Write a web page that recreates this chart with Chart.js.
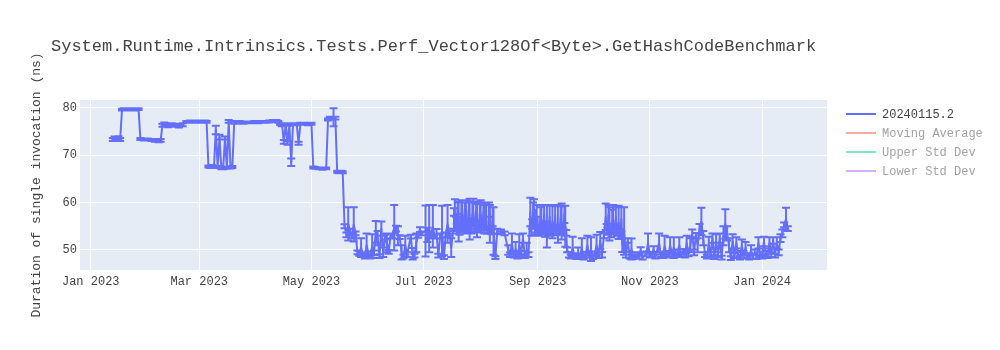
<!DOCTYPE html>
<html>
<head>
<meta charset="utf-8">
<script src="https://cdn.jsdelivr.net/npm/chart.js@4/dist/chart.umd.min.js"></script>
<style>
  html, body { margin: 0; padding: 0; background: #ffffff; }
  #wrap { width: 1000px; height: 350px; }
</style>
</head>
<body>
<div id="wrap"><canvas id="c" width="1000" height="350"></canvas></div>
<script>
const chartTitle = 'System.Runtime.Intrinsics.Tests.Perf_Vector128Of<Byte>.GetHashCodeBenchmark';
const yAxisTitle = 'Duration of single invocation (ns)';
const seriesNames = ['20240115.2', 'Moving Average', 'Upper Std Dev', 'Lower Std Dev'];
const seriesColors = ['#636efa', '#EF553B', '#00cc96', '#ab63fa'];
const seriesHidden = [false, true, true, true];

const xTickDates = ['2023-01-01', '2023-03-01', '2023-05-01', '2023-07-01', '2023-09-01', '2023-11-01', '2024-01-01'];
const xTickLabels = ['Jan 2023', 'Mar 2023', 'May 2023', 'Jul 2023', 'Sep 2023', 'Nov 2023', 'Jan 2024'];
const yTickValues = [50, 60, 70, 80];
const xRange = ['2022-12-26T04:00', '2024-02-05T07:00'];
const yRange = [45.78, 81.62];

const dates = [
  '2023-01-13','2023-01-14','2023-01-15','2023-01-16','2023-01-17','2023-01-18','2023-01-19','2023-01-21','2023-01-23','2023-01-25','2023-01-27','2023-01-28','2023-01-30',
  '2023-02-01','2023-02-03','2023-02-05','2023-02-07','2023-02-08','2023-02-09','2023-02-10','2023-02-12','2023-02-14','2023-02-16','2023-02-18','2023-02-20','2023-02-22','2023-02-24','2023-02-26','2023-02-28',
  '2023-03-02','2023-03-04','2023-03-05','2023-03-06','2023-03-07','2023-03-08','2023-03-09','2023-03-10','2023-03-11','2023-03-12','2023-03-13','2023-03-14','2023-03-15','2023-03-16','2023-03-17','2023-03-18','2023-03-19','2023-03-20','2023-03-21','2023-03-23','2023-03-25','2023-03-27','2023-03-29','2023-03-31',
  '2023-04-02','2023-04-04','2023-04-06','2023-04-08','2023-04-10','2023-04-12','2023-04-13','2023-04-14','2023-04-15','2023-04-16','2023-04-17','2023-04-18','2023-04-19','2023-04-20','2023-04-21','2023-04-23','2023-04-24','2023-04-25','2023-04-27','2023-04-29',
  '2023-05-01','2023-05-02','2023-05-03','2023-05-05','2023-05-07','2023-05-09','2023-05-10','2023-05-11','2023-05-12','2023-05-13','2023-05-14','2023-05-15','2023-05-16','2023-05-17','2023-05-18','2023-05-19','2023-05-20','2023-05-21','2023-05-22','2023-05-23','2023-05-24','2023-05-25','2023-05-26','2023-05-27','2023-05-28','2023-05-29','2023-05-30','2023-05-31',
  '2023-06-01','2023-06-02','2023-06-03','2023-06-04','2023-06-05','2023-06-06','2023-06-07','2023-06-08','2023-06-09','2023-06-10','2023-06-11','2023-06-12','2023-06-13','2023-06-14','2023-06-15','2023-06-16','2023-06-17','2023-06-18','2023-06-19','2023-06-20','2023-06-21','2023-06-22','2023-06-24','2023-06-25','2023-06-26','2023-06-27','2023-06-28','2023-06-29','2023-06-30',
  '2023-07-02','2023-07-03','2023-07-04','2023-07-05','2023-07-06','2023-07-07','2023-07-08','2023-07-09','2023-07-10','2023-07-11','2023-07-12','2023-07-13','2023-07-14','2023-07-15','2023-07-16','2023-07-17','2023-07-17T12:00','2023-07-18','2023-07-18T12:00','2023-07-19','2023-07-19T12:00','2023-07-20','2023-07-20T12:00','2023-07-21','2023-07-21T12:00','2023-07-22','2023-07-22T12:00','2023-07-23','2023-07-23T12:00','2023-07-24','2023-07-24T12:00','2023-07-25','2023-07-25T12:00','2023-07-26','2023-07-26T12:00','2023-07-27','2023-07-27T12:00','2023-07-28','2023-07-28T12:00','2023-07-29','2023-07-29T12:00','2023-07-30','2023-07-30T12:00','2023-07-31','2023-07-31T12:00',
  '2023-08-01','2023-08-01T12:00','2023-08-02','2023-08-02T12:00','2023-08-03','2023-08-03T12:00','2023-08-04','2023-08-04T12:00','2023-08-05','2023-08-05T12:00','2023-08-06','2023-08-06T12:00','2023-08-07','2023-08-07T12:00','2023-08-08','2023-08-09','2023-08-10','2023-08-12','2023-08-14','2023-08-16','2023-08-17','2023-08-18','2023-08-19','2023-08-20','2023-08-21','2023-08-22','2023-08-23','2023-08-24','2023-08-25','2023-08-26','2023-08-27','2023-08-28','2023-08-28T12:00','2023-08-29','2023-08-29T12:00','2023-08-30','2023-08-30T12:00','2023-08-31','2023-08-31T12:00',
  '2023-09-01','2023-09-01T12:00','2023-09-02','2023-09-02T12:00','2023-09-03','2023-09-03T12:00','2023-09-04','2023-09-04T12:00','2023-09-05','2023-09-05T12:00','2023-09-06','2023-09-06T12:00','2023-09-07','2023-09-07T12:00','2023-09-08','2023-09-08T12:00','2023-09-09','2023-09-09T12:00','2023-09-10','2023-09-10T12:00','2023-09-11','2023-09-11T12:00','2023-09-12','2023-09-12T12:00','2023-09-13','2023-09-13T12:00','2023-09-14','2023-09-14T12:00','2023-09-15','2023-09-15T12:00','2023-09-16','2023-09-16T12:00','2023-09-17','2023-09-18','2023-09-19','2023-09-20','2023-09-21','2023-09-22','2023-09-23','2023-09-24','2023-09-25','2023-09-26','2023-09-27','2023-09-28','2023-09-29','2023-09-30',
  '2023-10-01','2023-10-02','2023-10-03','2023-10-04','2023-10-05','2023-10-06','2023-10-07','2023-10-08','2023-10-08T12:00','2023-10-09','2023-10-09T12:00','2023-10-10','2023-10-10T12:00','2023-10-11','2023-10-11T12:00','2023-10-12','2023-10-12T12:00','2023-10-13','2023-10-13T12:00','2023-10-14','2023-10-15','2023-10-15T12:00','2023-10-16','2023-10-16T12:00','2023-10-17','2023-10-18','2023-10-19','2023-10-20','2023-10-21','2023-10-22','2023-10-23','2023-10-24','2023-10-26','2023-10-27','2023-10-28','2023-10-30','2023-10-31',
  '2023-11-01','2023-11-02','2023-11-03','2023-11-04','2023-11-06','2023-11-07','2023-11-08','2023-11-09','2023-11-10','2023-11-11','2023-11-12','2023-11-13','2023-11-14','2023-11-15','2023-11-16','2023-11-17','2023-11-18','2023-11-19','2023-11-20','2023-11-21','2023-11-22','2023-11-23','2023-11-24','2023-11-25','2023-11-26','2023-11-27','2023-11-28','2023-11-29','2023-11-30',
  '2023-12-01','2023-12-02','2023-12-03','2023-12-04','2023-12-05','2023-12-06','2023-12-07','2023-12-08','2023-12-09','2023-12-10','2023-12-11','2023-12-12','2023-12-13','2023-12-14','2023-12-15','2023-12-16','2023-12-17','2023-12-18','2023-12-19','2023-12-20','2023-12-21','2023-12-22','2023-12-23','2023-12-24','2023-12-25','2023-12-26','2023-12-27','2023-12-28','2023-12-29','2023-12-30','2023-12-31',
  '2024-01-01','2024-01-02','2024-01-03','2024-01-04','2024-01-05','2024-01-06','2024-01-07','2024-01-08','2024-01-09','2024-01-10','2024-01-11','2024-01-12','2024-01-13','2024-01-14','2024-01-15'
];
const values = [
  73.3,73.5,73.4,73.6,73.3,79.6,79.7,79.6,79.7,79.6,79.7,73.4,73.3,
  73.3,73.2,73.1,73.0,73.1,76.3,76.5,76.2,76.4,76.3,76.1,76.4,77.0,77.1,77.0,77.1,
  77.0,77.1,77.0,67.6,67.5,67.6,67.5,75.3,67.5,73.8,67.3,67.2,73.6,67.3,77.1,67.4,67.5,76.9,76.9,77.0,76.8,76.9,76.9,77.0,
  76.9,77.0,77.0,77.1,77.2,77.2,77.0,76.5,76.4,72.8,76.5,72.6,76.4,68.5,76.5,76.5,72.5,76.6,76.6,76.5,
  76.6,67.4,67.3,67.2,67.1,67.2,77.5,77.8,77.9,78.0,77.8,66.5,66.4,66.5,66.4,55.0,53.2,55.5,54.0,52.8,55.4,53.5,49.5,49.3,50.5,49.0,48.6,51.0,
  49.2,48.5,50.8,49.4,53.8,52.5,48.7,54.5,49.5,52.7,51.5,49.6,52.9,53.0,54.7,54.5,53.0,52.7,49.5,48.6,51.0,49.0,52.8,49.2,48.8,51.5,53.0,54.3,53.5,
  54.0,53.2,54.5,53.0,55.0,52.8,53.4,48.8,53.0,54.0,48.5,53.2,55.5,53.5,50.5,54.0,58.0,57.5,55.5,54.5,58.8,56.0,54.0,55.0,57.5,58.5,55.5,54.2,58.0,57.0,55.0,54.8,58.5,56.5,54.5,54.0,57.5,58.0,55.0,54.5,58.2,56.2,54.8,54.2,57.8,
  57.5,54.5,55.0,58.0,54.0,57.0,57.0,54.2,54.3,58.5,55.5,54.0,53.8,57.0,54.0,48.4,54.0,53.8,53.5,50.0,49.0,51.5,48.8,50.2,48.6,51.0,49.2,52.5,48.7,50.0,49.0,58.0,54.0,55.5,57.5,58.5,54.0,54.5,57.0,
  55.0,54.5,53.5,57.0,56.5,54.2,54.0,57.5,53.3,55.0,55.0,53.8,54.2,57.0,53.5,54.0,56.0,53.6,54.5,57.2,53.6,54.5,55.5,53.8,54.0,57.0,56.0,54.2,53.8,57.5,55.0,53.6,50.0,49.0,48.6,50.5,48.8,48.5,49.5,48.6,50.5,48.4,49.0,51.0,48.8,50.2,
  48.5,49.2,51.0,48.7,52.0,49.0,53.0,57.0,54.5,54.0,57.5,55.5,54.0,53.2,56.0,56.5,54.2,54.0,57.0,53.5,55.8,53.8,53.0,56.5,51.0,54.0,49.0,52.0,48.6,50.2,48.5,49.0,48.6,50.0,48.4,49.2,51.5,
  48.8,49.0,50.2,48.6,51.5,49.0,48.7,50.8,49.3,48.8,51.0,49.2,50.5,48.9,49.5,51.0,49.0,49.6,48.8,51.5,49.2,51.0,53.5,49.5,53.0,51.0,54.5,56.0,52.5,
  49.0,48.6,51.2,49.0,52.5,48.5,51.8,49.0,52.5,48.4,53.0,55.5,53.5,51.0,48.3,51.8,48.8,51.5,49.0,48.4,51.0,48.6,50.5,48.8,48.4,50.0,48.6,49.5,48.5,51.5,49.0,
  48.6,51.8,49.2,48.7,51.5,49.0,52.0,48.8,51.5,49.5,52.5,53.5,55.3,56.5,54.5
];
const errors = [
  0.3,0.4,0.3,0.4,0.3,0.2,0.2,0.2,0.2,0.2,0.2,0.2,0.2,
  0.2,0.2,0.3,0.3,0.3,0.3,0.4,0.3,0.3,0.3,0.3,0.3,0.2,0.2,0.2,0.2,
  0.2,0.2,0.2,0.2,0.2,0.3,0.2,0.9,0.2,0.5,0.3,0.2,0.3,0.2,0.3,0.2,0.2,0.3,0.3,0.2,0.2,0.2,0.2,0.2,
  0.2,0.2,0.2,0.2,0.2,0.2,0.2,0.2,0.3,0.4,0.2,0.4,0.2,0.8,0.2,0.2,0.3,0.2,0.2,0.2,
  0.2,0.2,0.2,0.2,0.2,0.2,0.2,0.3,0.2,1.9,0.3,0.2,0.2,0.2,0.2,0.4,0.5,3.5,0.5,0.3,3.6,0.4,0.4,0.5,2.0,0.4,0.4,2.5,
  0.5,0.3,2.5,0.5,2.3,1.5,0.4,1.5,1.0,0.5,2.0,0.4,0.5,0.5,4.8,0.6,2.0,0.4,1.5,0.4,2.0,0.5,0.4,1.2,0.4,2.0,0.4,0.5,0.4,
  5.4,1.5,5.0,0.5,4.5,0.4,1.0,0.4,0.5,5.3,0.4,0.5,4.0,0.5,2.0,0.5,0.8,3.2,1.5,1.0,1.2,4.2,0.8,0.6,2.5,2.0,1.5,0.5,2.0,3.5,1.0,0.8,1.8,4.3,0.8,0.5,2.5,2.8,1.2,0.6,2.0,3.5,1.0,0.5,2.2,
  3.0,0.8,0.8,2.0,0.5,2.5,2.8,0.8,0.6,1.5,4.0,0.6,0.5,2.0,5.0,0.3,0.5,0.5,0.4,1.0,0.5,2.0,0.4,1.5,0.4,2.3,0.6,1.0,0.4,1.5,0.5,3.0,1.0,1.0,2.5,2.2,0.8,0.8,2.5,
  2.0,0.8,0.5,2.0,3.0,0.6,0.6,2.0,0.5,1.0,4.5,0.6,0.6,2.3,0.5,0.8,3.5,0.5,0.6,2.0,0.5,0.8,4.0,0.6,0.5,2.2,3.8,0.6,0.6,1.8,4.3,0.6,0.5,0.6,0.4,2.3,0.5,0.4,1.0,0.4,2.0,0.4,0.6,2.0,0.4,2.5,
  0.4,0.5,2.2,0.4,1.8,0.6,0.5,2.8,1.0,0.8,2.0,3.5,0.6,0.5,2.5,3.0,0.6,0.6,2.0,0.5,3.5,0.6,0.5,2.5,1.4,5.0,0.6,0.5,0.4,2.2,0.4,0.5,0.4,0.6,0.4,0.5,2.0,
  0.4,0.5,0.6,0.4,2.0,0.5,0.4,2.2,0.5,0.4,1.7,0.5,2.2,0.4,0.6,1.7,0.5,0.6,0.4,1.5,0.5,1.5,0.8,0.6,0.6,1.5,1.0,2.9,1.5,
  0.5,0.4,1.6,0.5,1.0,0.4,1.5,0.5,1.0,0.4,2.0,3.1,1.5,1.5,0.4,1.5,0.5,1.2,0.6,0.4,1.2,0.4,1.2,0.5,0.4,1.0,0.4,0.6,0.4,1.2,0.5,
  0.4,1.0,0.6,0.4,1.2,0.5,0.7,0.4,1.2,0.6,0.8,0.8,0.5,2.4,0.5
];

const FONT = "'Liberation Mono', 'Courier New', monospace";
const toMs = s => {
  const [d, t] = s.split('T');
  const [y, m, dd] = d.split('-').map(Number);
  let h = 0, mi = 0;
  if (t) { [h, mi] = t.split(':').map(Number); }
  return Date.UTC(y, m - 1, dd, h, mi);
};
const xTickMs = xTickDates.map(toMs);

const mainData = dates.map((d, i) => ({ x: toMs(d), y: values[i], e: errors[i] }));

const datasets = seriesNames.map((name, i) => ({
  label: name,
  data: i === 0 ? mainData : [],
  hidden: seriesHidden[i],
  borderColor: seriesColors[i],
  backgroundColor: seriesColors[i],
  borderWidth: 2,
  pointRadius: 0,
  tension: 0,
  fill: false,
  borderJoinStyle: 'round'
}));

const bgPlugin = {
  id: 'bg',
  beforeDraw(chart) {
    const { ctx, chartArea: a } = chart;
    ctx.save();
    ctx.fillStyle = '#e5ecf6';
    ctx.fillRect(a.left, a.top, a.right - a.left, a.bottom - a.top);
    ctx.restore();
  }
};

const errPlugin = {
  id: 'errbars',
  afterDatasetsDraw(chart) {
    const { ctx, chartArea: a, scales } = chart;
    const ds = chart.data.datasets[0];
    ctx.save();
    ctx.beginPath();
    ctx.rect(a.left, a.top, a.right - a.left, a.bottom - a.top);
    ctx.clip();
    ctx.strokeStyle = ds.borderColor;
    ctx.lineWidth = 2;
    ctx.beginPath();
    ds.data.forEach(p => {
      const x = scales.x.getPixelForValue(p.x);
      const y1 = scales.y.getPixelForValue(p.y + p.e);
      const y2 = scales.y.getPixelForValue(p.y - p.e);
      ctx.moveTo(x, y1); ctx.lineTo(x, y2);
      ctx.moveTo(x - 4, y1); ctx.lineTo(x + 4, y1);
      ctx.moveTo(x - 4, y2); ctx.lineTo(x + 4, y2);
    });
    ctx.stroke();
    ctx.restore();
  }
};

const decorPlugin = {
  id: 'decor',
  afterDraw(chart) {
    const { ctx, chartArea: a } = chart;
    ctx.save();
    ctx.fillStyle = '#444';
    ctx.font = '17px ' + FONT;
    ctx.textAlign = 'left';
    ctx.textBaseline = 'alphabetic';
    ctx.fillText(chartTitle, 51, 51);
    ctx.save();
    ctx.translate(37, (a.top + a.bottom) / 2);
    ctx.rotate(-Math.PI / 2);
    ctx.font = '13px ' + FONT;
    ctx.textAlign = 'center';
    ctx.textBaseline = 'middle';
    ctx.fillText(yAxisTitle, 0, 0);
    ctx.restore();
    chart.data.datasets.forEach((ds, i) => {
      const y = 114 + i * 19;
      ctx.globalAlpha = ds.hidden ? 0.5 : 1;
      ctx.strokeStyle = ds.borderColor;
      ctx.lineWidth = 2;
      ctx.beginPath();
      ctx.moveTo(846, y); ctx.lineTo(876, y);
      ctx.stroke();
      ctx.fillStyle = '#444';
      ctx.font = '12px ' + FONT;
      ctx.textAlign = 'left';
      ctx.textBaseline = 'middle';
      ctx.fillText(ds.label, 882, y + 1);
    });
    ctx.restore();
  }
};

new Chart(document.getElementById('c'), {
  type: 'line',
  data: { datasets },
  options: {
    responsive: false,
    animation: false,
    layout: { padding: { left: 0, right: 173, top: 100, bottom: 0 } },
    plugins: { legend: { display: false }, title: { display: false }, tooltip: { enabled: false } },
    scales: {
      x: {
        type: 'linear',
        min: toMs(xRange[0]),
        max: toMs(xRange[1]),
        afterBuildTicks: ax => { ax.ticks = xTickMs.map(v => ({ value: v })); },
        afterFit: s => { s.height = 80; },
        ticks: {
          autoSkip: false, maxRotation: 0, minRotation: 0, padding: 5,
          color: '#444', font: { family: FONT, size: 12 },
          callback: v => { const k = xTickMs.indexOf(v); return k >= 0 ? xTickLabels[k] : ''; }
        },
        grid: { color: '#ffffff', lineWidth: 1, drawTicks: false },
        border: { display: false }
      },
      y: {
        type: 'linear',
        min: yRange[0],
        max: yRange[1],
        afterBuildTicks: ax => { ax.ticks = yTickValues.map(v => ({ value: v })); },
        afterFit: s => { s.width = 80; },
        ticks: { padding: 3, color: '#444', font: { family: FONT, size: 12 } },
        grid: { color: '#ffffff', lineWidth: 1, drawTicks: false },
        border: { display: false }
      }
    }
  },
  plugins: [bgPlugin, errPlugin, decorPlugin]
});
</script>
</body>
</html>
